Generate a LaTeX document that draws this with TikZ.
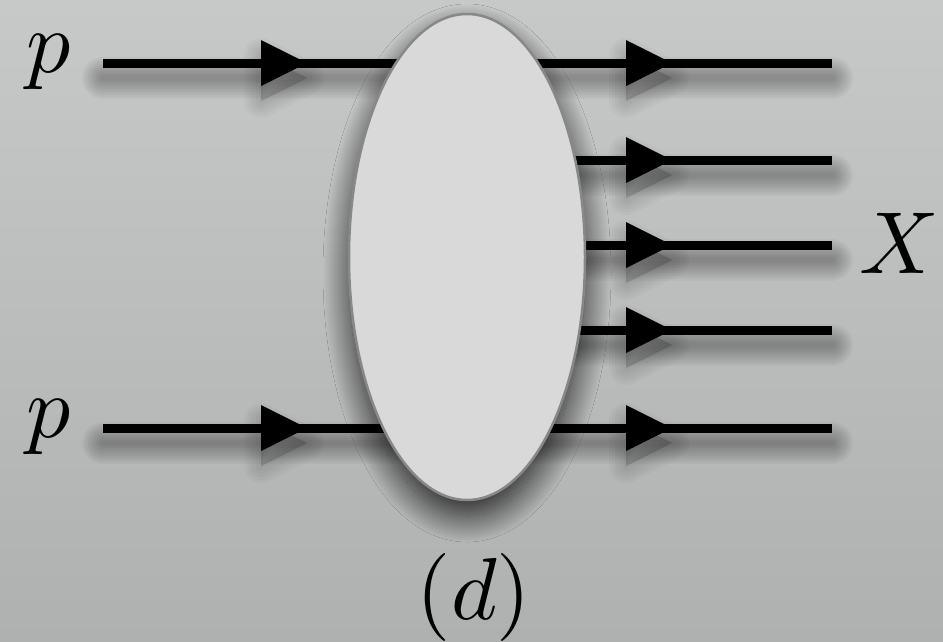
\documentclass[tikz,border=0pt]{standalone}
\usetikzlibrary{shapes.geometric,shadows.blur}
\definecolor{bgtop}{RGB}{199,201,200}
\definecolor{bgbot}{RGB}{175,177,176}
\definecolor{ellfill}{RGB}{217,217,217}
\definecolor{ellborder}{RGB}{136,136,136}
\tikzset{
  lbl/.style={scale=8.8, inner sep=0pt, anchor=base},
  leg/.style={draw=black, line width=9pt},
  shdline/.style={draw=black, opacity=0.03, line cap=round},
  tipfill/.style={fill=black},
}
\begin{document}
\begin{tikzpicture}[x=1pt,y=-1pt]
\shade[top color=bgtop, bottom color=bgbot] (0,0) rectangle (943,641);
\useasboundingbox (0,0) rectangle (943,641);

% end points of the legs
\coordinate (i1s) at (103,63);  \coordinate (i1e) at (467,63);
\coordinate (i2s) at (103,428); \coordinate (i2e) at (467,428);
\coordinate (o1s) at (467,63);  \coordinate (o1e) at (832,63);
\coordinate (o2s) at (467,160); \coordinate (o2e) at (832,160);
\coordinate (o3s) at (467,245); \coordinate (o3e) at (832,245);
\coordinate (o4s) at (467,330); \coordinate (o4e) at (832,330);
\coordinate (o5s) at (467,428); \coordinate (o5e) at (832,428);
% arrow tips
\coordinate (ta1) at (307,63);
\coordinate (ta2) at (307,428);
\coordinate (tb1) at (672,63);
\coordinate (tb2) at (672,160);
\coordinate (tb3) at (672,245);
\coordinate (tb4) at (672,330);
\coordinate (tb5) at (672,428);

% soft shadows of the legs
\foreach \a/\b in {i1s/i1e,i2s/i2e,o1s/o1e,o2s/o2e,o3s/o3e,o4s/o4e,o5s/o5e}{
  \foreach \w in {6,10,14,18,22,26,30,34,38,42}{
    \draw[shdline, line width=\w pt] ([yshift=-15pt]\a) -- ([yshift=-15pt]\b);
  }
}
% soft shadows of the arrow heads
\foreach \t in {ta1,ta2,tb1,tb2,tb3,tb4,tb5}{
  \foreach \w in {4,10,16,22,28,34}{
    \filldraw[black, opacity=0.025, line width=\w pt, line join=round]
      ([yshift=-15pt]\t) -- ++(-46,-23) -- ++(0,46) -- cycle;
  }
}

% legs
\foreach \a/\b in {i1s/i1e,i2s/i2e,o1s/o1e,o2s/o2e,o3s/o3e,o4s/o4e,o5s/o5e}{
  \draw[leg] (\a) -- (\b);
}
% arrow heads
\foreach \t in {ta1,ta2,tb1,tb2,tb3,tb4,tb5}{
  \fill[tipfill] (\t) -- ++(-46,-23) -- ++(0,46) -- cycle;
}

% blob
\node[ellipse, minimum width=236pt, minimum height=486pt, inner sep=0pt,
      fill=ellfill, draw=ellborder, line width=2.5pt,
      blur shadow={shadow xshift=0pt, shadow yshift=-16pt,
                   shadow blur radius=26pt, shadow blur steps=40,
                   shadow opacity=80}]
  (blob) at (467,257) {};

% labels
\node[lbl] (p1) at (49,72) {$p$};
\node[lbl] (p2) at (49,437) {$p$};
\node[lbl] (X) at (899,273) {$X$};
\node[lbl] (d) at (474,619) {$(d)$};
\end{tikzpicture}
\end{document}
